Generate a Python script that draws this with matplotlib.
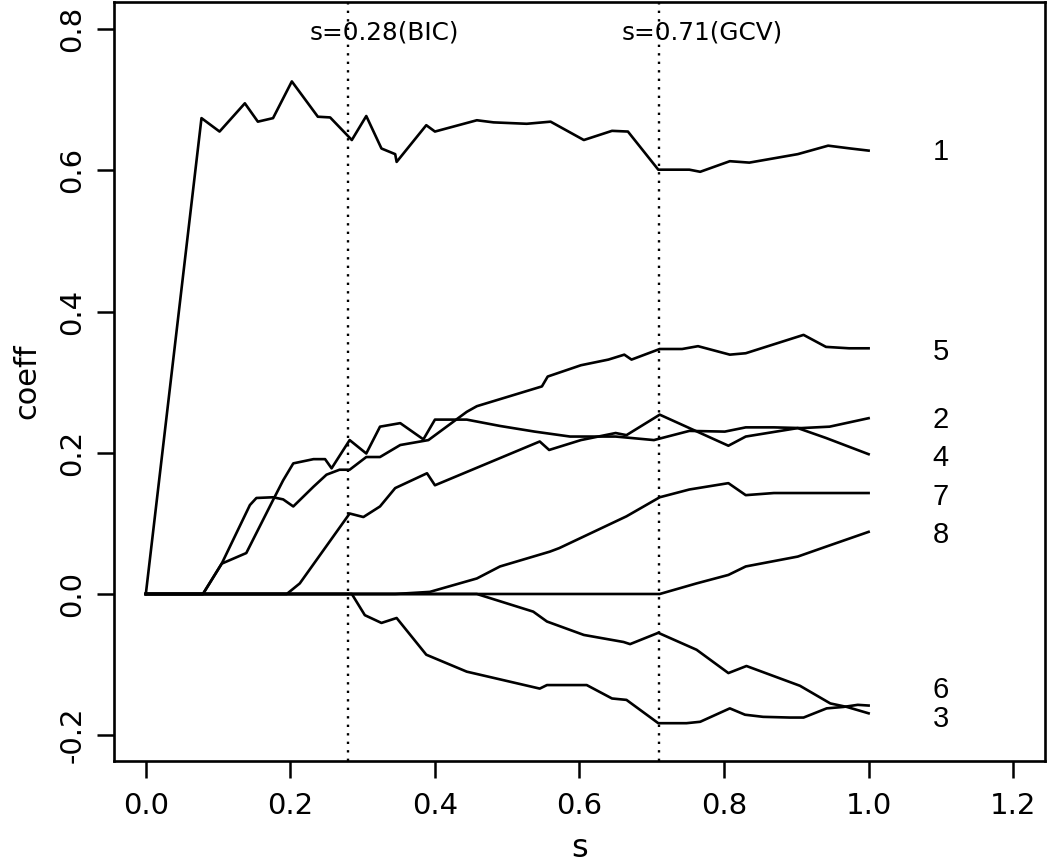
import numpy as np
from matplotlib import pyplot as plt

# chemins des coefficients (lars) : s = |beta|/max|beta|
s1 = [0, 0.077, 0.102, 0.137, 0.155, 0.176, 0.202, 0.238, 0.255, 0.285, 0.305, 0.326, 0.345, 0.347, 0.388, 0.400,
      0.458, 0.481, 0.527, 0.560, 0.606, 0.645, 0.667, 0.709, 0.752, 0.767, 0.808, 0.835, 0.902, 0.944, 0.975, 1.0]
b1 = [0, 0.674, 0.655, 0.695, 0.669, 0.674, 0.726, 0.676, 0.675, 0.643, 0.677, 0.631, 0.623, 0.612, 0.664, 0.655,
      0.671, 0.668, 0.666, 0.669, 0.643, 0.656, 0.655, 0.601, 0.601, 0.598, 0.613, 0.611, 0.623, 0.635, 0.631, 0.628]

s2 = [0, 0.079, 0.105, 0.139, 0.176, 0.190, 0.204, 0.232, 0.248, 0.257, 0.282, 0.305, 0.324, 0.352, 0.384, 0.400,
      0.444, 0.490, 0.538, 0.587, 0.650, 0.703, 0.752, 0.801, 0.830, 0.869, 0.907, 0.946, 1.0]
b2 = [0, 0, 0.043, 0.058, 0.133, 0.161, 0.185, 0.191, 0.191, 0.178, 0.218, 0.199, 0.237, 0.242, 0.219, 0.247,
      0.247, 0.238, 0.230, 0.223, 0.223, 0.218, 0.231, 0.230, 0.236, 0.236, 0.235, 0.237, 0.249]

s3 = [0, 0.285, 0.303, 0.326, 0.347, 0.388, 0.444, 0.545, 0.555, 0.610, 0.645, 0.665, 0.709, 0.748, 0.767, 0.808,
      0.829, 0.854, 0.891, 0.910, 0.942, 0.965, 0.985, 1.0]
b3 = [0, 0, -0.030, -0.041, -0.034, -0.086, -0.110, -0.134, -0.129, -0.129, -0.148, -0.150, -0.183, -0.183, -0.181,
      -0.162, -0.171, -0.174, -0.175, -0.175, -0.162, -0.160, -0.157, -0.158]

s4 = [0, 0.195, 0.213, 0.282, 0.301, 0.324, 0.345, 0.389, 0.400, 0.545, 0.558, 0.602, 0.650, 0.665, 0.711, 0.806,
      0.830, 0.902, 0.941, 1.0]
b4 = [0, 0, 0.015, 0.114, 0.109, 0.124, 0.150, 0.171, 0.154, 0.216, 0.204, 0.218, 0.228, 0.225, 0.254, 0.210,
      0.223, 0.235, 0.221, 0.198]

s5 = [0, 0.079, 0.105, 0.144, 0.153, 0.176, 0.190, 0.204, 0.232, 0.250, 0.268, 0.282, 0.305, 0.324, 0.352, 0.391,
      0.444, 0.458, 0.548, 0.556, 0.602, 0.640, 0.662, 0.672, 0.711, 0.742, 0.764, 0.808, 0.830, 0.910, 0.941,
      0.973, 1.0]
b5 = [0, 0, 0.043, 0.126, 0.136, 0.137, 0.134, 0.124, 0.152, 0.169, 0.176, 0.176, 0.194, 0.194, 0.211, 0.218,
      0.258, 0.266, 0.294, 0.308, 0.324, 0.332, 0.339, 0.332, 0.347, 0.347, 0.351, 0.339, 0.341, 0.367, 0.350,
      0.348, 0.348]

s6 = [0, 0.458, 0.536, 0.555, 0.606, 0.661, 0.670, 0.709, 0.762, 0.806, 0.831, 0.905, 0.947, 0.970, 1.0]
b6 = [0, 0, -0.025, -0.039, -0.058, -0.068, -0.071, -0.055, -0.079, -0.112, -0.102, -0.130, -0.155, -0.160, -0.169]

s7 = [0, 0.345, 0.393, 0.458, 0.490, 0.559, 0.572, 0.665, 0.711, 0.752, 0.806, 0.830, 0.869, 1.0]
b7 = [0, 0, 0.003, 0.022, 0.039, 0.060, 0.065, 0.110, 0.137, 0.148, 0.157, 0.140, 0.143, 0.143]

s8 = [0, 0.711, 0.762, 0.806, 0.830, 0.902, 0.941, 1.0]
b8 = [0, 0, 0.015, 0.027, 0.039, 0.053, 0.067, 0.088]

# etiquettes a droite
lab_txt = ['1', '5', '2', '4', '7', '8', '6', '3']
lab_y = [0.626, 0.343, 0.246, 0.193, 0.137, 0.084, -0.136, -0.177]
lab_x = 1.1

# s choisis
s_bic = 0.28
s_gcv = 0.71

fig = plt.figure(figsize=(10.5, 8.67), dpi=100)
ax = fig.add_axes([0.1086, 0.1223, 0.8866, 0.8754])

for s, b in [(s1, b1), (s2, b2), (s3, b3), (s4, b4), (s5, b5), (s6, b6), (s7, b7), (s8, b8)]:
    ax.plot(s, b, color='black', lw=1.9)

for v in [s_bic, s_gcv]:
    ax.axvline(v, color='black', lw=1.7, linestyle=(0, (1, 2.6)))

ax.text(0.33, 0.795, 's=0.28(BIC)', ha='center', va='center', fontsize=17.8)
ax.text(0.77, 0.795, 's=0.71(GCV)', ha='center', va='center', fontsize=17.8)

for t, y in zip(lab_txt, lab_y):
    ax.text(lab_x, y, t, ha='center', va='center', fontsize=21, family='Liberation Sans')

ax.set_xlim(-0.044, 1.244)
ax.set_ylim(-0.2365, 0.8385)
ax.set_xticks([0.0, 0.2, 0.4, 0.6, 0.8, 1.0, 1.2])
ax.set_xticklabels(['0.0', '0.2', '0.4', '0.6', '0.8', '1.0', '1.2'])
ax.set_yticks([-0.2, 0.0, 0.2, 0.4, 0.6, 0.8])
ax.set_yticklabels(['-0.2', '0.0', '0.2', '0.4', '0.6', '0.8'], rotation=90, va='center')
ax.tick_params(axis='both', length=12, width=1.8, labelsize=21, direction='out')
ax.tick_params(axis='x', pad=10)
ax.tick_params(axis='y', pad=8)
for sp in ax.spines.values():
    sp.set_linewidth(1.9)

ax.set_xlabel('s', fontsize=23, labelpad=10)
ax.set_ylabel('coeff', fontsize=22, labelpad=12)

plt.savefig('out.png')
